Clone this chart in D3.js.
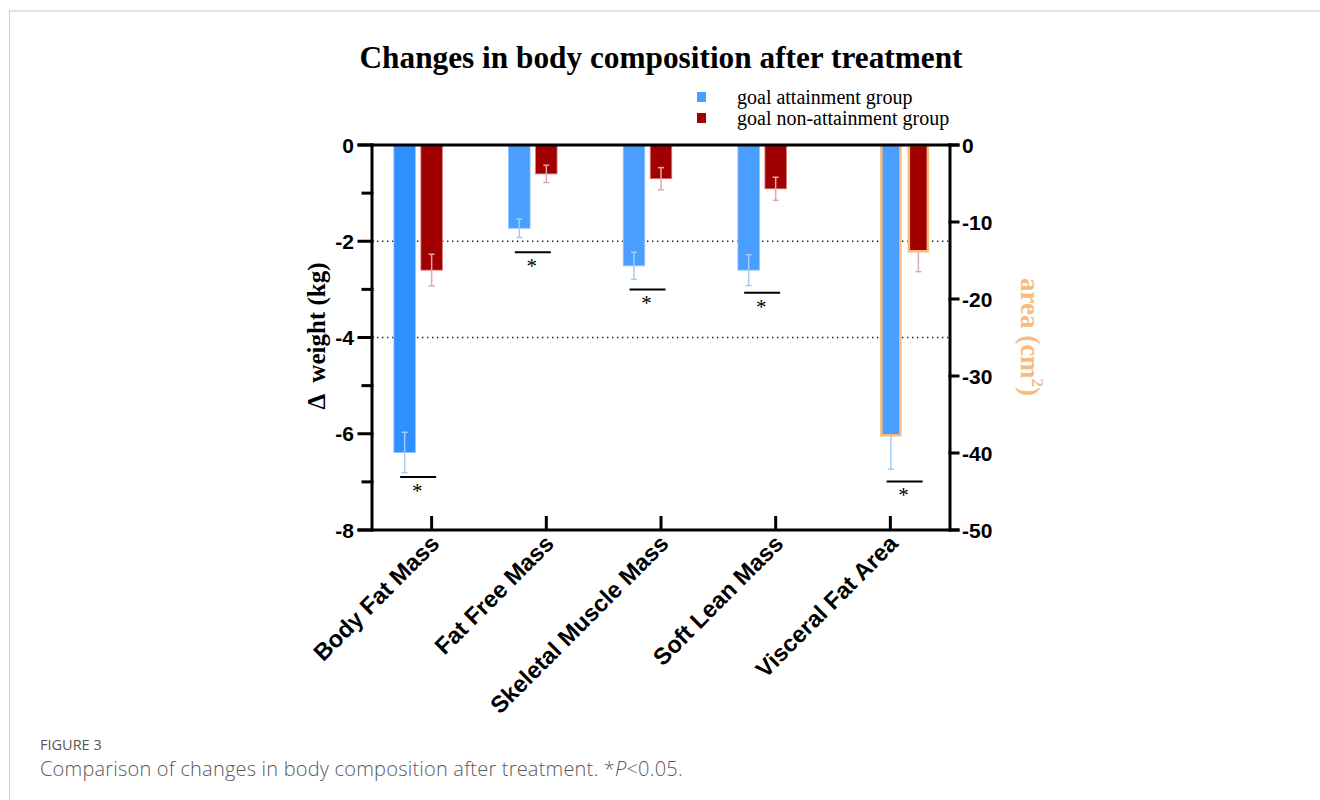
<!DOCTYPE html>
<html>
<head>
<meta charset="utf-8">
<script src="https://cdn.jsdelivr.net/npm/d3@7/dist/d3.min.js"></script>
<style>
  html, body { margin: 0; padding: 0; background: #fff; }
  svg { display: block; }
</style>
</head>
<body>
<svg id="chart" width="1320" height="800"></svg>
<script>
// Body composition change after treatment, two groups, mean ± SE
const categories = ["Body Fat Mass", "Fat Free Mass", "Skeletal Muscle Mass", "Soft Lean Mass", "Visceral Fat Area"];
const categoryAxis = ["left", "left", "left", "left", "right"];   // kg vs cm²
const seriesNames = ["goal attainment group", "goal non-attainment group"];
const attainMean = [-6.39, -1.73, -2.51, -2.60, -37.7];
const attainSE = [0.42, 0.19, 0.28, 0.32, 4.4];
const nonAttainMean = [-2.60, -0.60, -0.70, -0.91, -13.8];
const nonAttainSE = [0.33, 0.18, 0.23, 0.24, 2.65];
const significanceLevel = [-6.9, -2.23, -3.0, -3.07, -43.7];   // in each category's own axis units
const leftTicks = [0, -2, -4, -6, -8];
const leftMinorTicks = [-1, -3, -5, -7];
const rightTicks = [0, -10, -20, -30, -40, -50];
const gridLines = [-2, -4];

const svg = d3.select("#chart");
const plotTop = 145, plotBottom = 530, plotLeft = 372, plotRight = 950;

const yLeft = d3.scaleLinear().domain([-8, 0]).range([plotBottom, plotTop]);
const yRight = d3.scaleLinear().domain([-50, 0]).range([plotBottom, plotTop]);
const x = d3.scalePoint().domain(categories).range([plotLeft, plotRight]).padding(0.52);

const colors = { attain: "#4a9eff", attainStrong: "#3090ff", non: "#a00000",
                 attainErr: "#a3ccf5", nonErr: "#e3a8a8", area: "#f7bb7d" };

// frame
svg.append("line").attr("x1", 9).attr("x2", 1320).attr("y1", 11).attr("y2", 11)
  .attr("stroke", "#e2e2e2").attr("stroke-width", 2);
svg.append("line").attr("x1", 9.5).attr("x2", 9.5).attr("y1", 10).attr("y2", 800)
  .attr("stroke", "#cfcfcf").attr("stroke-width", 1);

// title
svg.append("text").attr("x", 661).attr("y", 68).attr("text-anchor", "middle")
  .attr("font-family", "'Liberation Serif', 'Times New Roman', serif")
  .attr("font-weight", "bold").attr("font-size", 31.3).attr("fill", "#000")
  .text("Changes in body composition after treatment");

// legend
const legend = svg.append("g");
[colors.attain, colors.non].forEach((c, i) => {
  legend.append("rect").attr("x", 697).attr("y", 92 + i * 21).attr("width", 9).attr("height", 10).attr("fill", c);
  legend.append("text").attr("x", 737).attr("y", 104 + i * 21)
    .attr("font-family", "'Liberation Serif', 'Times New Roman', serif")
    .attr("font-size", 20).attr("fill", "#000").text(seriesNames[i]);
});

// dotted reference lines
svg.append("g").selectAll("line").data(gridLines).join("line")
  .attr("x1", plotLeft).attr("x2", plotRight)
  .attr("y1", d => yLeft(d)).attr("y2", d => yLeft(d))
  .attr("stroke", "#222").attr("stroke-width", 1.3).attr("stroke-dasharray", "1.4,3.6");

// bars
const rows = categories.map((c, i) => ({
  cat: c, side: categoryAxis[i],
  scale: categoryAxis[i] === "right" ? yRight : yLeft,
  a: attainMean[i], aSE: attainSE[i], n: nonAttainMean[i], nSE: nonAttainSE[i],
  sig: significanceLevel[i]
}));

const barW = 21.5, gap = 6;
function barCenters(r) {
  const t = x(r.cat);
  // kg measures sit left of their tick; the area measure starts at its tick
  if (r.side === "right") return [t + 0.5, t + 0.5 + barW + gap];
  return [t - barW - gap + 0.5, t];
}

function errorBar(g, cx, y0, y1, color) {
  g.append("line").attr("x1", cx).attr("x2", cx).attr("y1", y0).attr("y2", y1)
    .attr("stroke", color).attr("stroke-width", 1.5);
  [y0, y1].forEach(yy => g.append("line").attr("x1", cx - 3).attr("x2", cx + 3)
    .attr("y1", yy).attr("y2", yy).attr("stroke", color).attr("stroke-width", 1.5));
}

const barsG = svg.append("g");
rows.forEach((r, i) => {
  const [cA, cN] = barCenters(r);
  const s = r.scale;
  const g = barsG.append("g");
  const isArea = r.side === "right";
  const w = isArea ? 19 : barW;
  if (isArea) {
    errorBar(g, cA, s(r.a), s(r.a - r.aSE), colors.attainErr);
    errorBar(g, cN, s(r.n), s(r.n - r.nSE), colors.nonErr);
  }
  g.append("rect").attr("x", cA - w / 2).attr("y", s(0)).attr("width", w).attr("height", s(r.a) - s(0))
    .attr("fill", i === 0 ? colors.attainStrong : colors.attain)
    .attr("stroke", isArea ? colors.area : "#8fc3ff").attr("stroke-width", isArea ? 2.5 : 0.8);
  g.append("rect").attr("x", cN - w / 2).attr("y", s(0)).attr("width", w).attr("height", s(r.n) - s(0))
    .attr("fill", colors.non)
    .attr("stroke", isArea ? colors.area : "#d77a7a").attr("stroke-width", isArea ? 2.5 : 0.8);
  if (!isArea) {
    errorBar(g, cA, s(r.a + r.aSE), s(r.a - r.aSE), colors.attainErr);
    errorBar(g, cN, s(r.n + r.nSE), s(r.n - r.nSE), colors.nonErr);
  }
  // significance mark
  const mid = (cA + cN) / 2;
  g.append("line").attr("x1", mid - 18).attr("x2", mid + 18)
    .attr("y1", s(r.sig)).attr("y2", s(r.sig)).attr("stroke", "#000").attr("stroke-width", 2);
  g.append("text").attr("x", mid - 1).attr("y", s(r.sig) + 21).attr("text-anchor", "middle")
    .attr("font-family", "'Liberation Serif', 'Times New Roman', serif")
    .attr("font-size", 21).attr("fill", "#000").text("*");
});

// axes
const tickFont = "'Liberation Sans', Arial, sans-serif";
const axG = svg.append("g").attr("stroke", "#000").attr("stroke-width", 3).attr("stroke-linecap", "square");
axG.append("line").attr("x1", plotLeft).attr("x2", plotLeft).attr("y1", plotTop).attr("y2", plotBottom);
axG.append("line").attr("x1", plotRight).attr("x2", plotRight).attr("y1", plotTop).attr("y2", plotBottom);
axG.append("line").attr("x1", plotLeft - 13).attr("x2", plotRight + 8).attr("y1", plotTop).attr("y2", plotTop);
axG.append("line").attr("x1", plotLeft - 13).attr("x2", plotRight + 8).attr("y1", plotBottom).attr("y2", plotBottom);

axG.selectAll(".lt").data(leftTicks).join("line")
  .attr("x1", plotLeft - 13).attr("x2", plotLeft).attr("y1", d => yLeft(d)).attr("y2", d => yLeft(d));
axG.selectAll(".lm").data(leftMinorTicks).join("line")
  .attr("x1", plotLeft - 9).attr("x2", plotLeft).attr("y1", d => yLeft(d)).attr("y2", d => yLeft(d));
axG.selectAll(".rt").data(rightTicks).join("line")
  .attr("x1", plotRight).attr("x2", plotRight + 8).attr("y1", d => yRight(d)).attr("y2", d => yRight(d));
axG.selectAll(".xt").data(categories).join("line")
  .attr("x1", d => x(d)).attr("x2", d => x(d)).attr("y1", plotBottom).attr("y2", plotBottom - 14)
  .attr("stroke-linecap", "butt");

const tickText = d => String(d);   // plain hyphen-minus, as typeset on the axes

svg.append("g").selectAll("text").data(leftTicks).join("text")
  .attr("x", plotLeft - 18).attr("y", d => yLeft(d)).attr("dy", "0.36em")
  .attr("text-anchor", "end").attr("font-family", tickFont).attr("font-weight", "bold")
  .attr("font-size", 21).text(tickText);

svg.append("g").selectAll("text").data(rightTicks).join("text")
  .attr("x", plotRight + 12).attr("y", d => yRight(d)).attr("dy", "0.36em")
  .attr("text-anchor", "start").attr("font-family", tickFont).attr("font-weight", "bold")
  .attr("font-size", 21).text(tickText);

svg.append("g").selectAll("text").data(categories).join("text")
  .attr("transform", d => `translate(${x(d) + 9},${545}) rotate(-45)`)
  .attr("text-anchor", "end").attr("font-family", tickFont).attr("font-weight", "bold")
  .attr("font-size", 23.5).text(d => d);

// axis titles
svg.append("text").attr("transform", "translate(325,336) rotate(-90)")
  .attr("text-anchor", "middle").attr("font-family", "'Liberation Serif', 'Times New Roman', serif")
  .attr("font-weight", "bold").attr("font-size", 25).attr("xml:space", "preserve")
  .text("\u0394  weight (kg)");

const areaLabel = svg.append("text").attr("transform", "translate(1021,337) rotate(90)")
  .attr("text-anchor", "middle").attr("font-family", "'Liberation Serif', 'Times New Roman', serif")
  .attr("font-weight", "bold").attr("font-size", 27).attr("fill", colors.area);
areaLabel.append("tspan").text("area (cm");
areaLabel.append("tspan").attr("font-size", 17).attr("dy", -11).text("2");
areaLabel.append("tspan").attr("dy", 11).text(")");

// caption
svg.append("text").attr("x", 40).attr("y", 750)
  .attr("font-family", "'Open Sans', 'Noto Sans', sans-serif").attr("font-size", 14.5)
  .attr("fill", "#555").text("FIGURE 3");
const cap = svg.append("text").attr("x", 40).attr("y", 776)
  .attr("font-family", "'Open Sans', 'Noto Sans', sans-serif").attr("font-weight", 300)
  .attr("font-size", 20).attr("letter-spacing", 0.2).attr("fill", "#5a5a5a");
cap.append("tspan").text("Comparison of changes in body composition after treatment. *");
cap.append("tspan").attr("font-style", "italic").text("P");
cap.append("tspan").text("<0.05.");
</script>
</body>
</html>
